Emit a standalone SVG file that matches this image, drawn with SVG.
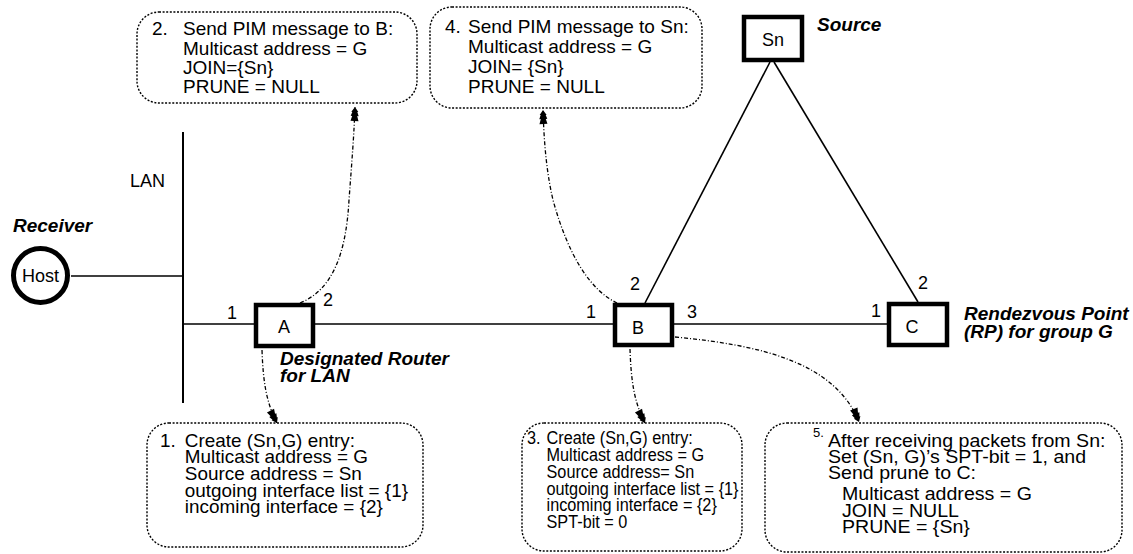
<svg xmlns="http://www.w3.org/2000/svg" width="1133" height="554" viewBox="0 0 1133 554">
<style>
text{font-family:"Liberation Sans",Arial,Helvetica,sans-serif;font-size:18px;fill:#000}
.bi{font-weight:bold;font-style:italic;font-size:19px}
.n{font-size:19px}
.m{font-size:17.5px}
.note{fill:#fff;stroke:#000;stroke-width:1.4;stroke-dasharray:2 1.6}
.rt{fill:#fff;stroke:#000;stroke-width:4.5}
.ln{stroke:#000;stroke-width:1.6;fill:none}
.dc{stroke:#000;stroke-width:1.3;fill:none;stroke-dasharray:4 2 1 2;marker-end:url(#tree)}
.c{text-anchor:middle}
</style>
<defs>
<marker id="tree" markerUnits="userSpaceOnUse" markerWidth="18" markerHeight="12" refX="15" refY="6" orient="auto" viewBox="0 0 18 12">
<path d="M1,2 L6,3.5 L6,2 L10,3.5 L10,2.5 L15,6 L10,9.5 L10,8.5 L6,10 L6,8.5 L1,10 Z" fill="#000"/>
</marker>
</defs>

<g id="connectors">
<line class="ln" x1="183" y1="132" x2="183" y2="403" style="stroke-width:2"/>
<line class="ln" x1="71" y1="276" x2="183" y2="276"/>
<line class="ln" x1="183" y1="324" x2="254" y2="324"/>
<line class="ln" x1="315" y1="324" x2="613" y2="324"/>
<line class="ln" x1="674" y1="324" x2="887" y2="324"/>
<line class="ln" x1="770" y1="62" x2="645" y2="303"/>
<line class="ln" x1="774" y1="62" x2="918" y2="302"/>
<path class="dc" d="M300,303 C332,290 346,255 349,200 C352,160 354,135 355,107"/>
<path class="dc" d="M617,303 C590,290 568,255 553,200 C546,170 544,140 543,110"/>
<path class="dc" d="M262,350 C263,380 266,402 277,423"/>
<path class="dc" d="M630,349 C631,380 634,402 645,423"/>
<path class="dc" d="M675,337 C760,345 835,362 859,422"/>
</g>

<g id="host">
<circle cx="40.5" cy="275.5" r="27" fill="#fff" stroke="#000" stroke-width="5"/>
<text class="c" x="40.5" y="282">Host</text>
<text class="bi" x="13" y="232">Receiver</text>
</g>
<g id="lan"><text x="130" y="187">LAN</text></g>

<g id="routerA">
<rect class="rt" x="256" y="305" width="57" height="41"/>
<text class="c" x="284" y="333">A</text>
<text x="227" y="319">1</text>
<text x="323" y="306">2</text>
<text class="bi" x="280" y="365">Designated Router</text>
<text class="bi" x="280" y="382">for LAN</text>
</g>

<g id="routerB">
<rect class="rt" x="615" y="305" width="57" height="40"/>
<text class="c" x="638" y="334">B</text>
<text x="586" y="318">1</text>
<text x="630" y="290">2</text>
<text x="687" y="318">3</text>
</g>

<g id="routerC">
<rect class="rt" x="889" y="304" width="58" height="41"/>
<text class="c" x="912" y="333">C</text>
<text x="871" y="317">1</text>
<text x="918" y="289">2</text>
<text class="bi" x="964" y="320">Rendezvous Point</text>
<text class="bi" x="964" y="338">(RP) for group G</text>
</g>

<g id="source">
<rect class="rt" x="744" y="17" width="58" height="43"/>
<text class="c" x="773" y="46">Sn</text>
<text class="bi" x="817" y="31">Source</text>
</g>

<g id="note2">
<rect class="note" x="137" y="12" width="280" height="91" rx="22"/>
<text class="n" x="152" y="35">2.</text>
<text class="n" x="183" y="35">Send PIM message to B:</text>
<text class="n" x="183" y="55">Multicast address = G</text>
<text class="n" x="183" y="74">JOIN={Sn}</text>
<text class="n" x="183" y="93">PRUNE = NULL</text>
</g>

<g id="note4">
<rect class="note" x="430" y="7" width="272" height="101" rx="22"/>
<text class="n" x="445" y="33">4.</text>
<text class="n" x="468" y="33">Send PIM message to Sn:</text>
<text class="n" x="468" y="53">Multicast address = G</text>
<text class="n" x="468" y="73">JOIN= {Sn}</text>
<text class="n" x="468" y="93">PRUNE = NULL</text>
</g>

<g id="note1">
<rect class="note" x="147" y="423" width="276" height="124" rx="22"/>
<g transform="translate(160,0) scale(1.08,1) translate(-160,0)">
<text class="m" x="160" y="447">1.</text>
<text class="m" x="183" y="447">Create (Sn,G) entry:</text>
<text class="m" x="183" y="463.5">Multicast address = G</text>
<text class="m" x="183" y="480">Source address = Sn</text>
<text class="m" x="183" y="497">outgoing interface list = {1}</text>
<text class="m" x="183" y="513">incoming interface = {2}</text>
</g>
</g>

<g id="note3">
<rect class="note" x="522" y="423" width="220" height="128" rx="22"/>
<g transform="translate(527,0) scale(0.93,1) translate(-527,0)">
<text class="m" x="527" y="444">3.</text>
<text class="m" x="548" y="444">Create (Sn,G) entry:</text>
<text class="m" x="548" y="461">Multicast address = G</text>
<text class="m" x="548" y="478">Source address= Sn</text>
<text class="m" x="548" y="495">outgoing interface list = {1}</text>
<text class="m" x="548" y="511">incoming interface = {2}</text>
<text class="m" x="548" y="528">SPT-bit = 0</text>
</g>
</g>

<g id="note5">
<rect class="note" x="765" y="423" width="357" height="129" rx="22"/>
<text x="813" y="437" style="font-size:13px">5.</text>
<g transform="translate(828,0) scale(1.12,1) translate(-828,0)">
<text class="m" x="828" y="447">After receiving packets from Sn:</text>
<text class="m" x="828" y="463">Set (Sn, G)’s SPT-bit = 1, and</text>
<text class="m" x="828" y="479">Send prune to C:</text>
<text class="m" x="840.5" y="500">Multicast address = G</text>
<text class="m" x="840.5" y="517">JOIN = NULL</text>
<text class="m" x="840.5" y="533">PRUNE = {Sn}</text>
</g>
</g>
</svg>
